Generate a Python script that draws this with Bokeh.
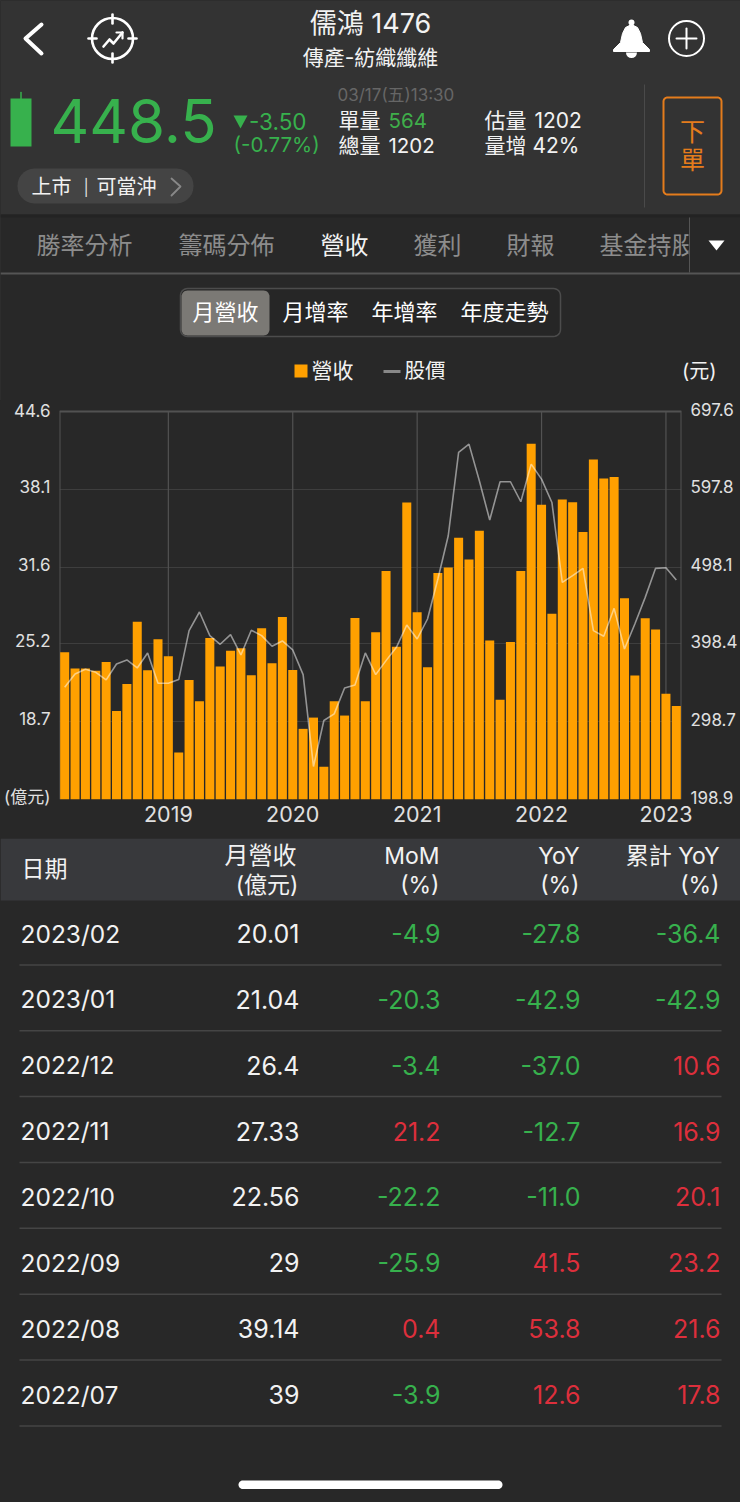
from bokeh.core.properties import value
from bokeh.embed import file_html
from bokeh.layouts import column
from bokeh.models import FixedTicker, LinearAxis, Range1d
from bokeh.plotting import figure
from bokeh.resources import INLINE
import numpy as np

# ---------- data ----------
revenue = [24.49, 23.13, 23.13, 22.96, 23.69, 19.60, 21.85, 27.05, 22.99, 25.58,
           24.16, 16.12, 22.18, 20.40, 25.69, 23.30, 24.63, 24.83, 22.57, 26.49,
           23.57, 27.44, 23.02, 18.10, 19.04, 14.93, 20.40, 19.21, 27.36, 20.40,
           26.16, 31.28, 24.96, 37.01, 27.83, 23.24, 31.11, 31.58, 34.06, 32.25,
           34.64, 25.47, 20.52, 25.35, 31.28, 41.90, 36.81, 27.72, 37.26, 37.03,
           34.53, 40.59, 39.00, 39.14, 29.00, 22.56, 27.33, 26.40, 21.04, 20.01]
price = [343.2, 360.3, 366.3, 362.4, 352.6, 373.1, 378.3, 368.0, 387.3, 348.3,
         348.3, 353.0, 415.9, 439.9, 409.5, 398.4, 410.8, 384.7, 416.4, 409.5,
         395.8, 402.7, 391.1, 359.4, 241.3, 300.4, 308.9, 342.3, 346.2, 387.3,
         359.4, 377.4, 394.5, 423.2, 405.2, 430.9, 482.3, 537.9, 645.0, 655.7,
         608.6, 558.1, 607.3, 607.3, 581.6, 630.0, 610.7, 580.7, 478.0, 486.6,
         496.0, 415.9, 408.7, 444.6, 392.4, 424.5, 458.7, 496.0, 496.8, 481.0]
year_ticks = [10, 22, 34, 46, 58]
year_labels = ["2019", "2020", "2021", "2022", "2023"]
left_ticks = [12.2, 18.7, 25.2, 31.6, 38.1, 44.6]
left_labels = ["(億元)", "18.7", "25.2", "31.6", "38.1", "44.6"]
right_ticks = [198.9, 298.7, 398.4, 498.1, 597.8, 697.6]
right_labels = ["198.9", "298.7", "398.4", "498.1", "597.8", "697.6"]

dates = ["2023/02", "2023/01", "2022/12", "2022/11", "2022/10", "2022/09", "2022/08", "2022/07"]
rev_text = ["20.01", "21.04", "26.4", "27.33", "22.56", "29", "39.14", "39"]
mom = ["-4.9", "-20.3", "-3.4", "21.2", "-22.2", "-25.9", "0.4", "-3.9"]
yoy = ["-27.8", "-42.9", "-37.0", "-12.7", "-11.0", "41.5", "53.8", "12.6"]
cum_yoy = ["-36.4", "-42.9", "10.6", "16.9", "20.1", "23.2", "21.6", "17.8"]
tabs = ["勝率分析", "籌碼分佈", "營收", "獲利", "財報"]
segments = ["月營收", "月增率", "年增率", "年度走勢"]

# ---------- style ----------
FONT = 'Inter, Noto Sans CJK TC'
BG = "#282828"
HEAD = "#333333"
GREEN = "#37b14d"
RED = "#dd2f3c"
WHITE = "#f2f2f2"
ORANGE = "#ffa000"
BTN = "#e47c1c"
GRID_V = "#525252"
GRID_H = "#3e3e3e"


def canvas(y0, y1, bg=BG):
    p = figure(width=740, height=y1 - y0, x_range=Range1d(0, 740), y_range=Range1d(y1, y0),
               output_backend="svg", toolbar_location=None, min_border=0, frame_align=False,
               background_fill_color=bg, border_fill_color=bg, outline_line_color=None,
               styles={"background-color": bg})
    p.axis.visible = False
    p.grid.visible = False
    return p


def txt(p, x, y, s, size, color=WHITE, align="left", baseline="middle"):
    p.text([x], [y], text=[s], text_font=value(FONT), text_font_size=f"{size}px", text_color=color,
           text_align=align, text_baseline=baseline)


def rect(p, x0, y0, x1, y1, fill, line=None, lw=1):
    p.quad(left=[x0], right=[x1], top=[y0], bottom=[y1], fill_color=fill, line_color=line,
           line_width=lw)


def rrect(p, x0, y0, x1, y1, r, fill, line=None, lw=1):
    a = np.linspace(0, np.pi / 2, 8)
    xs = np.r_[x1 - r + r * np.sin(a), x1 - r + r * np.cos(a), x0 + r - r * np.sin(a), x0 + r - r * np.cos(a)]
    ys = np.r_[y0 + r - r * np.cos(a), y1 - r + r * np.sin(a), y1 - r + r * np.cos(a), y0 + r - r * np.sin(a)]
    p.patch(xs, ys, fill_color=fill, line_color=line, line_width=lw,
            fill_alpha=1 if fill else 0)


def seg(p, xs, ys, color=WHITE, lw=2, cap="round"):
    p.line(xs, ys, line_color=color, line_width=lw, line_cap=cap, line_join="round")


# ---------- header ----------
h = canvas(0, 400)
h.styles = {"background-color": HEAD}
rect(h, 0, 0, 740, 214, HEAD)
rect(h, 0, 214, 740, 217, "#232323")
# nav icons
seg(h, [41, 25, 41], [24, 38, 53], "#ffffff", 4)
h.circle([112], [38], radius=20.5, fill_alpha=0, line_color="#ffffff", line_width=2.6)
for xs, ys in (([112, 112], [14, 23]), ([112, 112], [53, 62]), ([88, 96], [38, 38]), ([128, 136], [38, 38])):
    seg(h, xs, ys, "#ffffff", 2.6)
seg(h, [103, 109, 113, 122], [46, 39, 43, 32], "#ffffff", 2.6)
seg(h, [116, 122, 122], [32, 32, 38], "#ffffff", 2.2)
txt(h, 370, 23, "儒鴻 1476", 27, WHITE, "center")
txt(h, 370, 56.5, "傳產-紡織纖維", 21, WHITE, "center")
# bell
h.patch([631, 625, 622, 620, 613, 613, 649, 649, 642, 640, 637],
        [24, 27, 33, 42, 49, 51, 51, 49, 42, 33, 27], fill_color="#ffffff", line_color="#ffffff")
h.circle([631], [22], radius=3, fill_color="#ffffff", line_color=None)
h.wedge([631], [52], radius=5.5, start_angle=np.pi, end_angle=0, fill_color="#ffffff", line_color=None)
# add
h.circle([686], [38], radius=17.5, fill_alpha=0, line_color="#ffffff", line_width=2)
seg(h, [676, 696], [38, 38], "#ffffff", 2)
seg(h, [686, 686], [28, 48], "#ffffff", 2)
# price block
rect(h, 10, 98, 31, 146, GREEN)
seg(h, [20.5, 20.5], [92, 98], GREEN, 1.5)
txt(h, 50, 120.5, "448.5", 60, GREEN)
h.patch([233, 247, 240], [115, 115, 128], fill_color=GREEN, line_color=None)
txt(h, 248.5, 121, "-3.50", 22.5, GREEN)
txt(h, 233, 143.5, "(-0.77%)", 20.5, GREEN)
rrect(h, 17, 168, 193, 203, 17, "#444444")
txt(h, 31, 186, "上市", 20)
txt(h, 83, 186, "|", 16, "#dddddd")
txt(h, 96, 186, "可當沖", 20)
seg(h, [171, 180, 171], [178, 186, 195], "#888888", 1.8)
# quote block
txt(h, 337, 94, "03/17(五)13:30", 17, "#666666")
txt(h, 338, 119.5, "單量", 21)
txt(h, 388, 119.5, "564", 20.5, "#3fae4a")
txt(h, 338, 144.5, "總量", 21)
txt(h, 388, 144.5, "1202", 20.5)
txt(h, 484, 119.5, "估量", 21)
txt(h, 534, 119.5, "1202", 21)
txt(h, 484, 144.5, "量增", 21)
txt(h, 532, 144.5, "42%", 21)
seg(h, [644, 644], [84, 207], "#4a4a4a", 1, "butt")
rrect(h, 663, 97, 721, 194, 4, None, BTN, 2)
txt(h, 692, 131.5, "下", 25, BTN, "center")
txt(h, 692, 159.5, "單", 25, BTN, "center")
# tabs
for x, s, c in zip([84, 226, 344, 437, 530], tabs, ["#8c8c8c", "#8c8c8c", WHITE, "#8c8c8c", "#8c8c8c"]):
    txt(h, x, 245, s, 24, c, "center")
txt(h, 599, 245, "基金持股", 24, "#8c8c8c")
rect(h, 688, 217, 740, 272, BG)
seg(h, [689, 689], [217, 272], "#555555", 1, "butt")
h.patch([708, 724, 716], [240, 240, 250], fill_color="#ffffff", line_color=None)
seg(h, [0, 740], [273, 273], "#555555", 2, "butt")
# segment switch
rrect(h, 180, 288, 560, 336, 7, "#262626", "#4c4c4c", 1.5)
rrect(h, 181, 290, 269, 335, 6, "#7b7975")
for x, s in zip([225, 315, 404, 504], segments):
    txt(h, x, 311.5, s, 22, "#ffffff", "center")
# legend
rect(h, 294, 364, 307, 377, ORANGE)
txt(h, 311, 370, "營收", 21)
seg(h, [383, 400], [371, 371], "#888888", 3, "butt")
txt(h, 404, 370, "股價", 20.5)
txt(h, 716, 370, "(元)", 20, WHITE, "right")

# ---------- chart ----------
months = list(range(len(revenue)))
# the frame is 3px taller than the chart's box, so the tick labels can sit slightly above their lines
px_left = (left_ticks[-1] - left_ticks[0]) / 388
px_right = (right_ticks[-1] - right_ticks[0]) / 388
c = figure(width=740, height=438, output_backend="svg", toolbar_location=None, frame_align=False,
           x_range=Range1d(-0.5, 59.5),
           y_range=Range1d(left_ticks[0], left_ticks[-1] + 3 * px_left),
           min_border_left=59, min_border_right=59, min_border_top=8, min_border_bottom=39,
           background_fill_color=BG, border_fill_color=BG, outline_line_color=None,
           styles={"background-color": BG})
c.extra_y_ranges = {"price": Range1d(right_ticks[0], right_ticks[-1] + 3 * px_right)}
c.xgrid.visible = False
c.ygrid[0].ticker = FixedTicker(ticks=left_ticks)
c.ygrid[0].grid_line_color = GRID_H
c.segment(x0=year_ticks, x1=year_ticks, y0=left_ticks[0], y1=left_ticks[-1], line_color=GRID_V, line_width=1.2)
c.line([-0.5, -0.5, 59.5, 59.5], [left_ticks[0], left_ticks[-1], left_ticks[-1], left_ticks[0]],
       line_color=GRID_V, line_width=2)
c.vbar(x=months, top=revenue, bottom=left_ticks[0], width=0.87, fill_color=ORANGE, line_color=None)
c.line(months, price, y_range_name="price", line_color="#ffffff", line_alpha=0.5, line_width=1.6)

right = LinearAxis(y_range_name="price")
c.add_layout(right, "right")
left_pos = [round(v + 2.5 * px_left, 3) for v in left_ticks]
right_pos = [round(v + 2.5 * px_right, 3) for v in right_ticks]
for ax, ticks, labels in ((c.yaxis[0], left_pos, left_labels), (right, right_pos, right_labels),
                          (c.xaxis[0], year_ticks, year_labels)):
    ax.ticker = FixedTicker(ticks=ticks)
    ax.major_label_overrides = dict(zip(ticks, labels))
    ax.axis_line_color = None
    ax.major_tick_line_color = None
    ax.minor_tick_line_color = None
    ax.major_tick_out = 0
    ax.major_tick_in = 0
    ax.major_label_text_font = FONT
    ax.major_label_text_color = "#e0e0e0"
    ax.major_label_text_font_size = "17px"
    ax.major_label_standoff = 9
c.xaxis[0].major_label_text_font_size = "21.5px"
c.xaxis[0].major_label_standoff = 6

# ---------- table ----------
t = canvas(838, 1502)
rect(t, 0, 838, 740, 900, "#38393c")
txt(t, 21, 868, "日期", 23)
for x, a, b in ((296, "月營收", "(億元)"), (439, "MoM", "(%)"), (579, "YoY", "(%)"), (719, "累計 YoY", "(%)")):
    txt(t, x, 855, a, 24 if x == 296 else 23, WHITE, "right")
    txt(t, 298 if x == 296 else x, 884, b, 23, WHITE, "right")


def shade(v):
    return GREEN if v.startswith("-") else RED


row_y = [933 + 65.86 * i for i in range(len(dates))]
for i, y in enumerate(row_y):
    txt(t, 20, y, dates[i], 24.5)
    txt(t, 299, y, rev_text[i], 25, WHITE, "right")
    txt(t, 440, y, mom[i], 25, shade(mom[i]), "right")
    txt(t, 580, y, yoy[i], 25, shade(yoy[i]), "right")
    txt(t, 720, y, cum_yoy[i], 25, shade(cum_yoy[i]), "right")
    seg(t, [19, 721], [y + 31.4, y + 31.4], "#454545", 1.5, "butt")
rrect(t, 238, 1480, 502, 1488.5, 4.2, "#ffffff")

page = column(h, c, t, spacing=0, styles={"background-color": BG})
open("out.html", "w").write(file_html(page, INLINE))
